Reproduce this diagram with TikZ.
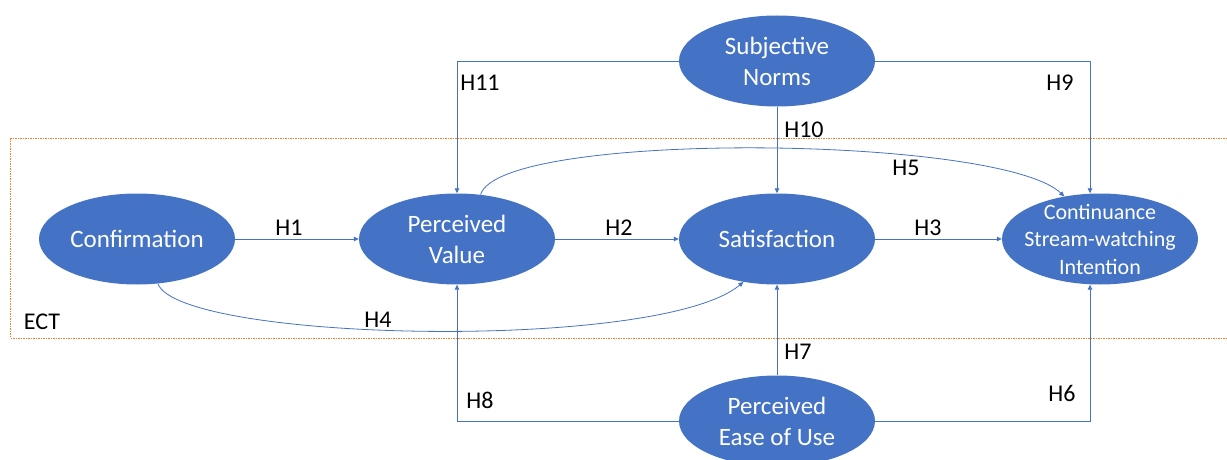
\documentclass[tikz,border=0pt]{standalone}
\usepackage{fontspec}
\setmainfont{Carlito}
\usepackage{tikz}
\usetikzlibrary{shapes,positioning,arrows.meta}

\definecolor{ppblue}{RGB}{68,114,196}
\definecolor{ectorange}{RGB}{237,125,49}

\begin{document}
\begin{tikzpicture}[x=1pt, y=-1pt,
        construct/.style={ellipse, fill=ppblue, draw=none, minimum width=196pt, minimum height=91pt, inner sep=0pt},
        inside/.style={text=white, align=center, font=\fontsize{25}{31}\selectfont},
        hyp/.style={text=black, font=\fontsize{24}{29}\selectfont},
        link/.style={draw=ppblue, line width=0.8pt, -{Triangle[length=5pt, width=4.5pt]}},
        ect/.style={draw=ectorange, line width=1pt, dash pattern=on 1.5pt off 1pt}
    ]
    \useasboundingbox (0,0) rectangle (1227,460) ;

    \draw[ect] (10.5,138) rectangle (1240,338) ;
    \node[hyp] (ectlabel) at (42,322) {ECT} ;

    \node[construct] (conf) at (137,239) {} ;
    \node[construct] (pv)   at (457,239) {} ;
    \node[construct] (sat)  at (777,239) {} ;
    \node[construct] (cont) at (1100,239) {} ;
    \node[construct] (sn)   at (777,61) {} ;
    \node[construct] (peou) at (777,421) {} ;

    \node[inside] (conftxt) at (conf) {Confirmation} ;
    \node[inside] (pvtxt)   at (pv)   {Perceived\\Value} ;
    \node[inside] (sattxt)  at (sat)  {Satisfaction} ;
    \node[inside, font=\fontsize{22}{27.5}\selectfont] (conttxt) at (cont) {Continuance\\Stream-watching\\Intention} ;
    \node[inside] (sntxt)   at (sn)   {Subjective\\Norms} ;
    \node[inside] (peoutxt) at (peou) {Perceived\\Ease of Use} ;

    % ECT paths
    \draw[link] (conf.east) -- (pv.west) ;
    \draw[link] (pv.east) -- (sat.west) ;
    \draw[link] (sat.east) -- (cont.west) ;
    \draw[link] (conf.-65) .. controls (180,342) and (660,352) .. (sat.-128) ;
    \draw[link] (pv.62) .. controls (500,130) and (1000,135) .. (cont.130) ;

    % extensions
    \draw[link] (peou.east) -| ([xshift=-10pt]cont.south) ;
    \draw[link] (peou.north) -- (sat.south) ;
    \draw[link] (peou.west) -| (pv.south) ;
    \draw[link] (sn.east) -| ([xshift=-10pt]cont.north) ;
    \draw[link] (sn.south) -- (sat.north) ;
    \draw[link] (sn.west) -| (pv.north) ;

    \node[hyp] (h1)  at (289,228) {H1} ;
    \node[hyp] (h2)  at (619,228) {H2} ;
    \node[hyp] (h3)  at (928,228) {H3} ;
    \node[hyp] (h4)  at (378,320) {H4} ;
    \node[hyp] (h5)  at (906,168) {H5} ;
    \node[hyp] (h6)  at (1062,393) {H6} ;
    \node[hyp] (h7)  at (798,352) {H7} ;
    \node[hyp] (h8)  at (480,400) {H8} ;
    \node[hyp] (h9)  at (1060,83) {H9} ;
    \node[hyp] (h10) at (804,130) {H10} ;
    \node[hyp] (h11) at (480,83) {H11} ;

\end{tikzpicture}
\end{document}
